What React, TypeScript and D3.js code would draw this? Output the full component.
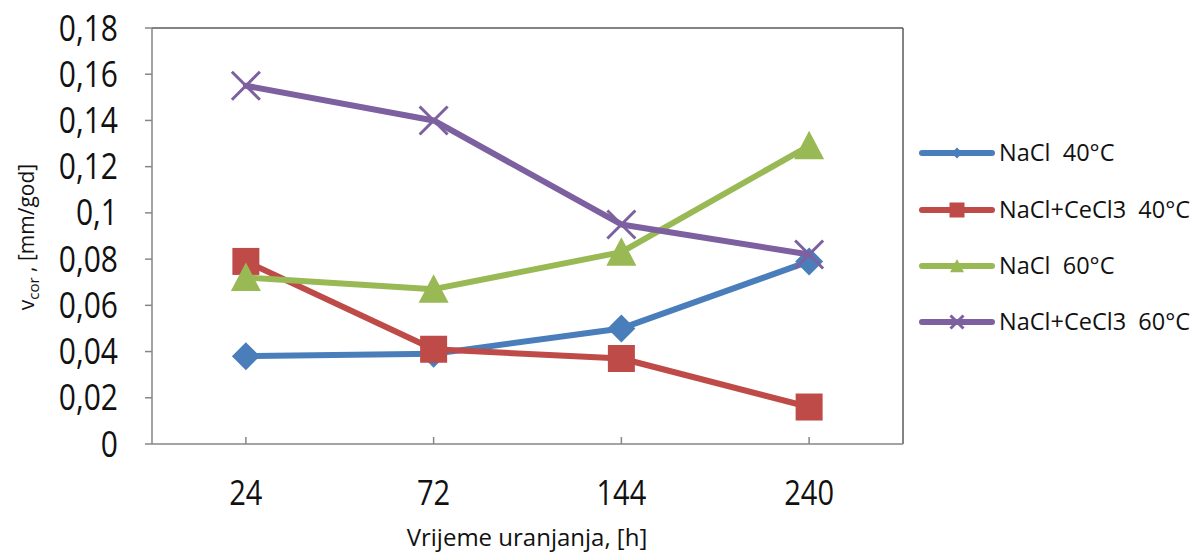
import React from "react";
import * as d3 from "d3";

const categories = ["24", "72", "144", "240"];
const seriesNames = ["NaCl  40°C", "NaCl+CeCl3  40°C", "NaCl  60°C", "NaCl+CeCl3  60°C"];
const naCl40 = [0.038, 0.039, 0.05, 0.079];
const naClCe40 = [0.079, 0.041, 0.037, 0.016];
const naCl60 = [0.072, 0.067, 0.083, 0.129];
const naClCe60 = [0.155, 0.14, 0.095, 0.082];
const yTicks = [0, 0.02, 0.04, 0.06, 0.08, 0.1, 0.12, 0.14, 0.16, 0.18];
const yTickLabels = ["0", "0,02", "0,04", "0,06", "0,08", "0,1", "0,12", "0,14", "0,16", "0,18"];

const colors = ["#4A7EBB", "#BE4B48", "#98B954", "#7D60A0"];
const markers = ["diamond", "square", "triangle", "x"];
const FONT = "'Open Sans', 'DejaVu Sans', sans-serif";

function Marker({ type, x, y, s, color }: { type: string; x: number; y: number; s: number; color: string }) {
  if (type === "diamond") {
    const h = s / 2;
    return <path d={`M${x},${y - h}L${x + h},${y}L${x},${y + h}L${x - h},${y}Z`} fill={color} />;
  }
  if (type === "square") {
    return <rect x={x - s / 2} y={y - s / 2} width={s} height={s} fill={color} />;
  }
  if (type === "triangle") {
    const h = s / 2;
    return <path d={`M${x},${y - h}L${x + h},${y + h * 0.9}L${x - h},${y + h * 0.9}Z`} fill={color} />;
  }
  const h = s / 2;
  return (
    <path
      d={`M${x - h},${y - h}L${x + h},${y + h}M${x - h},${y + h}L${x + h},${y - h}`}
      stroke={color}
      strokeWidth={3}
      fill="none"
    />
  );
}

export default function App() {
  const W = 1204, H = 555;
  const left = 152, right = 903, top = 28, bottom = 444;
  const x = d3.scalePoint<string>().domain(categories).range([left, right]).padding(0.5);
  const y = d3.scaleLinear().domain([0, 0.18]).range([bottom, top]);
  const allSeries = [naCl40, naClCe40, naCl60, naClCe60];
  const line = d3
    .line<number>()
    .x((_, i) => x(categories[i]) as number)
    .y((d) => y(d));
  const markerSizes = [28, 27, 30, 28];
  const legendMarkerSizes = [11, 15, 14, 13];
  const legendY = [153, 210, 266, 322];

  return (
    <svg width={W} height={H} style={{ position: "absolute", left: 0, top: 0, background: "#fff" }}>
      <rect x={0} y={0} width={W} height={H} fill="#fff" />
      {/* plot area border */}
      <line x1={left} x2={right} y1={top} y2={top} stroke="#5a5a5a" strokeWidth={1.5} />
      <line x1={right} x2={right} y1={top} y2={bottom} stroke="#5a5a5a" strokeWidth={1.5} />
      {/* axes */}
      <line x1={left} x2={left} y1={top} y2={bottom} stroke="#868686" strokeWidth={1.5} />
      <line x1={left} x2={right} y1={bottom} y2={bottom} stroke="#868686" strokeWidth={1.5} />
      {yTicks.map((t, i) => (
        <g key={i}>
          <line x1={left - 7} x2={left} y1={y(t)} y2={y(t)} stroke="#868686" strokeWidth={1.5} />
          <g transform={`translate(118,${y(t) + 12.5}) scale(1,1.2)`}>
            <text textAnchor="end" fontFamily={FONT} fontSize={30} fill="#111">
              {yTickLabels[i]}
            </text>
          </g>
        </g>
      ))}
      {categories.map((c) => (
        <g key={c}>
          <line x1={x(c)} x2={x(c)} y1={bottom - 7} y2={bottom} stroke="#868686" strokeWidth={1.5} />
          <g transform={`translate(${x(c)},505) scale(1,1.2)`}>
            <text textAnchor="middle" fontFamily={FONT} fontSize={29} fill="#111">
              {c}
            </text>
          </g>
        </g>
      ))}
      {/* axis titles */}
      <text x={527} y={546} textAnchor="middle" fontFamily={FONT} fontSize={24} fill="#111">
        Vrijeme uranjanja, [h]
      </text>
      <g transform="translate(34,237) rotate(-90)">
        <text textAnchor="middle" fontFamily={FONT} fontSize={21} fill="#111" style={{ whiteSpace: "pre" }}>
          <tspan>v</tspan>
          <tspan fontSize={15} dy={5}>cor</tspan>
          <tspan dy={-5}> , [mm/god]</tspan>
        </text>
      </g>
      {/* series */}
      {allSeries.map((vals, si) => (
        <g key={si}>
          <path d={line(vals) || ""} fill="none" stroke={colors[si]} strokeWidth={6} strokeLinejoin="round" strokeLinecap="round" />
          {vals.map((v, i) => (
            <Marker key={i} type={markers[si]} x={x(categories[i]) as number} y={y(v)} s={markerSizes[si]} color={colors[si]} />
          ))}
        </g>
      ))}
      {/* legend */}
      {seriesNames.map((n, si) => (
        <g key={n}>
          <line x1={922} x2={992} y1={legendY[si]} y2={legendY[si]} stroke={colors[si]} strokeWidth={6} strokeLinecap="round" />
          <Marker type={markers[si]} x={957} y={legendY[si]} s={legendMarkerSizes[si]} color={colors[si]} />
          <text x={999} y={legendY[si]} dy="0.35em" fontFamily={FONT} fontSize={23.5} fill="#111" style={{ whiteSpace: "pre" }}>
            {n}
          </text>
        </g>
      ))}
    </svg>
  );
}
